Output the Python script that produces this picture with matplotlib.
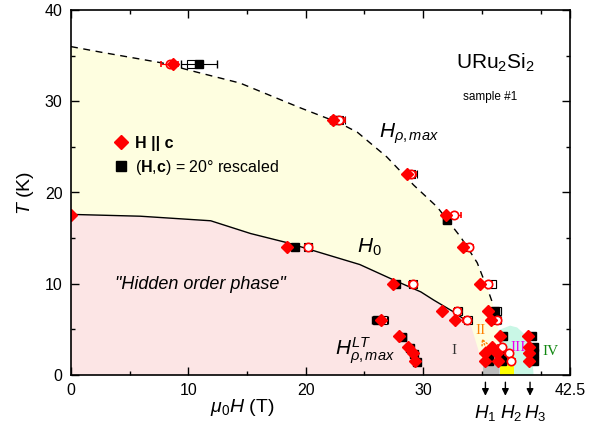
import matplotlib
matplotlib.use("Agg")
import matplotlib.pyplot as plt
from matplotlib.lines import Line2D

plt.rcParams['font.family'] = ['Liberation Sans', 'DejaVu Sans']
plt.rcParams['mathtext.fontset'] = 'custom'
plt.rcParams['mathtext.rm'] = 'Liberation Sans'
plt.rcParams['mathtext.it'] = 'Liberation Sans:italic'
plt.rcParams['mathtext.bf'] = 'Liberation Sans:bold'

# ---- phase boundary curves ----
h0_H = [0, 5.9, 11.9, 15.3, 18.4, 24.6, 27.5, 29.8, 30.9, 32.6, 33.6, 34.0]
h0_T = [17.6, 17.4, 16.9, 15.5, 14.5, 12.1, 10.4, 9.1, 8.2, 6.9, 6.0, 5.7]

hr_H = [0, 2.5, 7.8, 10.1, 14.4, 19.5, 22.9, 24.4, 26.9, 29.2, 31.2, 33.2, 34.6, 35.6, 35.9]
hr_T = [36.0, 35.4, 34.2, 33.4, 32.0, 29.3, 27.6, 26.6, 23.9, 20.8, 18.4, 15.1, 12.3, 9.0, 7.9]

# ---- data points ----
dia_H = [8.7, 22.3, 28.6, 31.9, 33.4, 34.8, 35.5, 35.8,
         0.0, 18.4, 27.4, 31.6, 32.7,
         26.4, 27.9, 28.7, 29.1, 29.3,
         36.5, 35.9, 35.3, 36.3, 35.3, 36.4, 38.9, 39.0, 39.0, 39.0]
dia_T = [34.1, 28.0, 22.0, 17.5, 14.0, 10.0, 7.0, 6.0,
         17.5, 14.0, 10.0, 7.0, 6.0,
         6.0, 4.3, 3.1, 2.4, 1.5,
         4.3, 3.1, 2.4, 2.4, 1.5, 1.5, 4.3, 3.1, 2.4, 1.5]

sq_H = [10.9, 22.5, 32.0, 19.1, 27.7, 36.1, 26.1, 28.2, 28.9, 29.2, 29.5,
        36.8, 35.6, 36.6, 35.6, 36.7, 39.3, 39.4, 39.4, 39.4]
sq_T = [34.1, 28.0, 17.0, 14.0, 10.0, 7.0, 6.0, 4.2, 3.0, 2.3, 1.4,
        4.3, 2.4, 2.4, 1.5, 1.5, 4.3, 3.1, 2.4, 1.5]
sq_err = [1.5, 0.4, 0.3, 0.0, 0.0, 0.3, 0.5, 0.3, 0.0, 0.0, 0.0,
          0.0, 0.0, 0.0, 0.0, 0.0, 0.0, 0.0, 0.0, 0.0]

osq_H = [10.2, 22.8, 29.0, 20.2, 29.1, 33.0, 33.8, 36.3, 36.2, 35.9, 33.7, 26.6]
osq_T = [34.1, 28.0, 22.0, 14.0, 10.0, 7.0, 6.0, 7.0, 6.0, 10.0, 14.0, 6.0]
osq_err = [0.0, 0.5, 0.5, 0.3, 0.3, 0.3, 0.3, 0.3, 0.4, 0.3, 0.0, 0.4]

oc_H = [8.4, 22.8, 29.0, 32.6, 33.9, 35.5, 36.3, 20.2, 29.1, 32.9, 33.7, 36.7, 37.3, 37.5]
oc_T = [34.1, 28.0, 22.0, 17.5, 14.0, 10.0, 6.0, 14.0, 10.0, 7.0, 6.0, 3.1, 2.4, 1.5]
oc_err = [0.7, 0.5, 0.4, 0.6, 0.3, 0.4, 0.3, 0.3, 0.3, 0.3, 0.3, 0.3, 0.3, 0.3]

crit_H = [35.3, 37.0, 39.1]
crit_label_H = [34.3, 36.5, 38.6]
crit_labels = [r'$H_1$', r'$H_2$', r'$H_3$']

fig = plt.figure(figsize=(5.99, 4.40), dpi=100)
ax = fig.add_axes([0.1185, 0.148, 0.833, 0.829])
ax.set_xlim(0, 42.5)
ax.set_ylim(0, 40)

# ---- regions ----
yel_poly = list(zip(hr_H, hr_T)) + [(36.4, 4.9), (36.5, 0), (0, 0)]
ax.fill([p[0] for p in yel_poly], [p[1] for p in yel_poly], color='#fefee0', lw=0, zorder=0)
pink_poly = list(zip(h0_H, h0_T)) + [(35.1, 1.0), (35.1, 0), (0, 0)]
ax.fill([p[0] for p in pink_poly], [p[1] for p in pink_poly], color='#fce5e5', lw=0, zorder=0.1)
mint = [(36.4, 4.9), (37.4, 5.4), (38.0, 5.2), (39.2, 3.8), (39.4, 0), (36.5, 0)]
ax.fill([p[0] for p in mint], [p[1] for p in mint], color='#c9f7e6', lw=0, zorder=0.2)
grey = [(35.1, 0), (36.5, 0), (36.5, 2.0), (35.6, 2.0), (35.1, 1.0)]
ax.fill([p[0] for p in grey], [p[1] for p in grey], color='#bdbdbd', lw=0, zorder=0.3)
ylw = [(36.5, 0), (37.7, 0), (37.7, 2.1), (36.5, 2.1)]
ax.fill([p[0] for p in ylw], [p[1] for p in ylw], color='#ffff00', lw=0, zorder=0.3)

# ---- curves ----
ax.plot(h0_H, h0_T, color='black', lw=1.0, zorder=1)
ax.plot(hr_H, hr_T, color='black', lw=1.0, ls=(0, (5, 4)), zorder=1)

# ---- points ----
ax.errorbar(osq_H, osq_T, xerr=osq_err, fmt='s', ms=6, mfc='white', mec='black',
            ecolor='black', elinewidth=0.8, capsize=3, mew=0.8, zorder=2)
ax.errorbar(sq_H, sq_T, xerr=sq_err, fmt='s', ms=6, mfc='black', mec='black',
            ecolor='black', elinewidth=0.8, capsize=3, zorder=3)
ax.errorbar(oc_H, oc_T, xerr=oc_err, fmt='o', ms=6, mfc='white', mec='red',
            ecolor='red', elinewidth=0.8, capsize=2.5, mew=1.2, zorder=4)
ax.plot(dia_H, dia_T, 'D', ms=6.5, color='red', mec='red', zorder=5)

# ---- ticks ----
ax.set_xticks([0, 10, 20, 30, 42.5])
ax.set_xticklabels(['0', '10', '20', '30', '42.5'])
ax.set_xticks([5, 15, 25, 35, 40], minor=True)
ax.set_yticks([0, 10, 20, 30, 40])
ax.set_yticks([5, 15, 25, 35], minor=True)
ax.tick_params(which='both', direction='in', top=True, right=True, labelsize=11.5, width=1)
ax.tick_params(which='major', length=6, pad=6)
ax.tick_params(which='minor', length=3)
for s in ax.spines.values():
    s.set_linewidth(1.2)
    s.set_zorder(6)

ax.set_xlabel(r'$\mu_0H$ (T)', fontsize=14)
ax.xaxis.set_label_coords(0.343, -0.06)
ax.set_ylabel(r'$T$ (K)', fontsize=14, labelpad=6)

# ---- legend ----
h1 = Line2D([], [], marker='D', ls='none', color='red', ms=7)
h2 = Line2D([], [], marker='s', ls='none', color='black', ms=7)
leg = ax.legend([h1, h2], [r'H || c', r'($\mathbf{H}$,$\mathbf{c}$) = 20° rescaled'],
                loc='upper left', bbox_to_anchor=(0.052, 0.695), frameon=False,
                fontsize=11.5, handletextpad=0.3, labelspacing=0.45, handlelength=1.2)
leg.get_texts()[0].set_fontweight('bold')

# ---- labels ----
ax.text(0.85, 0.855, r'URu$_2$Si$_2$', transform=ax.transAxes, ha='center', va='center', fontsize=15)
ax.text(0.84, 0.762, 'sample #1', transform=ax.transAxes, ha='center', va='center', fontsize=8.5)
ax.text(26.2, 26.0, r'$H_{\rho,max}$', fontsize=15, ha='left', va='baseline')
ax.text(24.4, 13.4, r'$H_0$', fontsize=15, ha='left', va='baseline')
ax.text(22.5, 2.2, r'$H^{LT}_{\rho,max}$', fontsize=15, ha='left', va='baseline')
ax.text(11.0, 9.9, '"Hidden order phase"', fontsize=13, style='italic', ha='center', va='center')

serif = ['Liberation Serif', 'DejaVu Serif']
ax.text(32.6, 2.7, 'I', family=serif, fontsize=11, ha='center', va='center', color='#333333')
ax.text(34.9, 4.9, 'II', family=serif, fontsize=11, ha='center', va='center', color='#ff8000')
ax.text(38.1, 3.0, 'III', family=serif, fontsize=11, ha='center', va='center', color='#ee00ee')
ax.text(40.8, 2.6, 'IV', family=serif, fontsize=11, ha='center', va='center', color='#118811')
ax.annotate('', xy=(34.9, 4.3), xytext=(35.7, 1.9),
            arrowprops=dict(arrowstyle='->', color='#ff8000', lw=1, ls=':'))

for hx, lx, lab in zip(crit_H, crit_label_H, crit_labels):
    ax.annotate('', xy=(hx, -2.6), xytext=(hx, -0.5), annotation_clip=False,
                arrowprops=dict(arrowstyle='-|>', color='black', lw=1.0, mutation_scale=10))
    ax.text(lx, -4.2, lab, fontsize=13.5, ha='left', va='center', clip_on=False)

fig.savefig('out.png', dpi=100)
